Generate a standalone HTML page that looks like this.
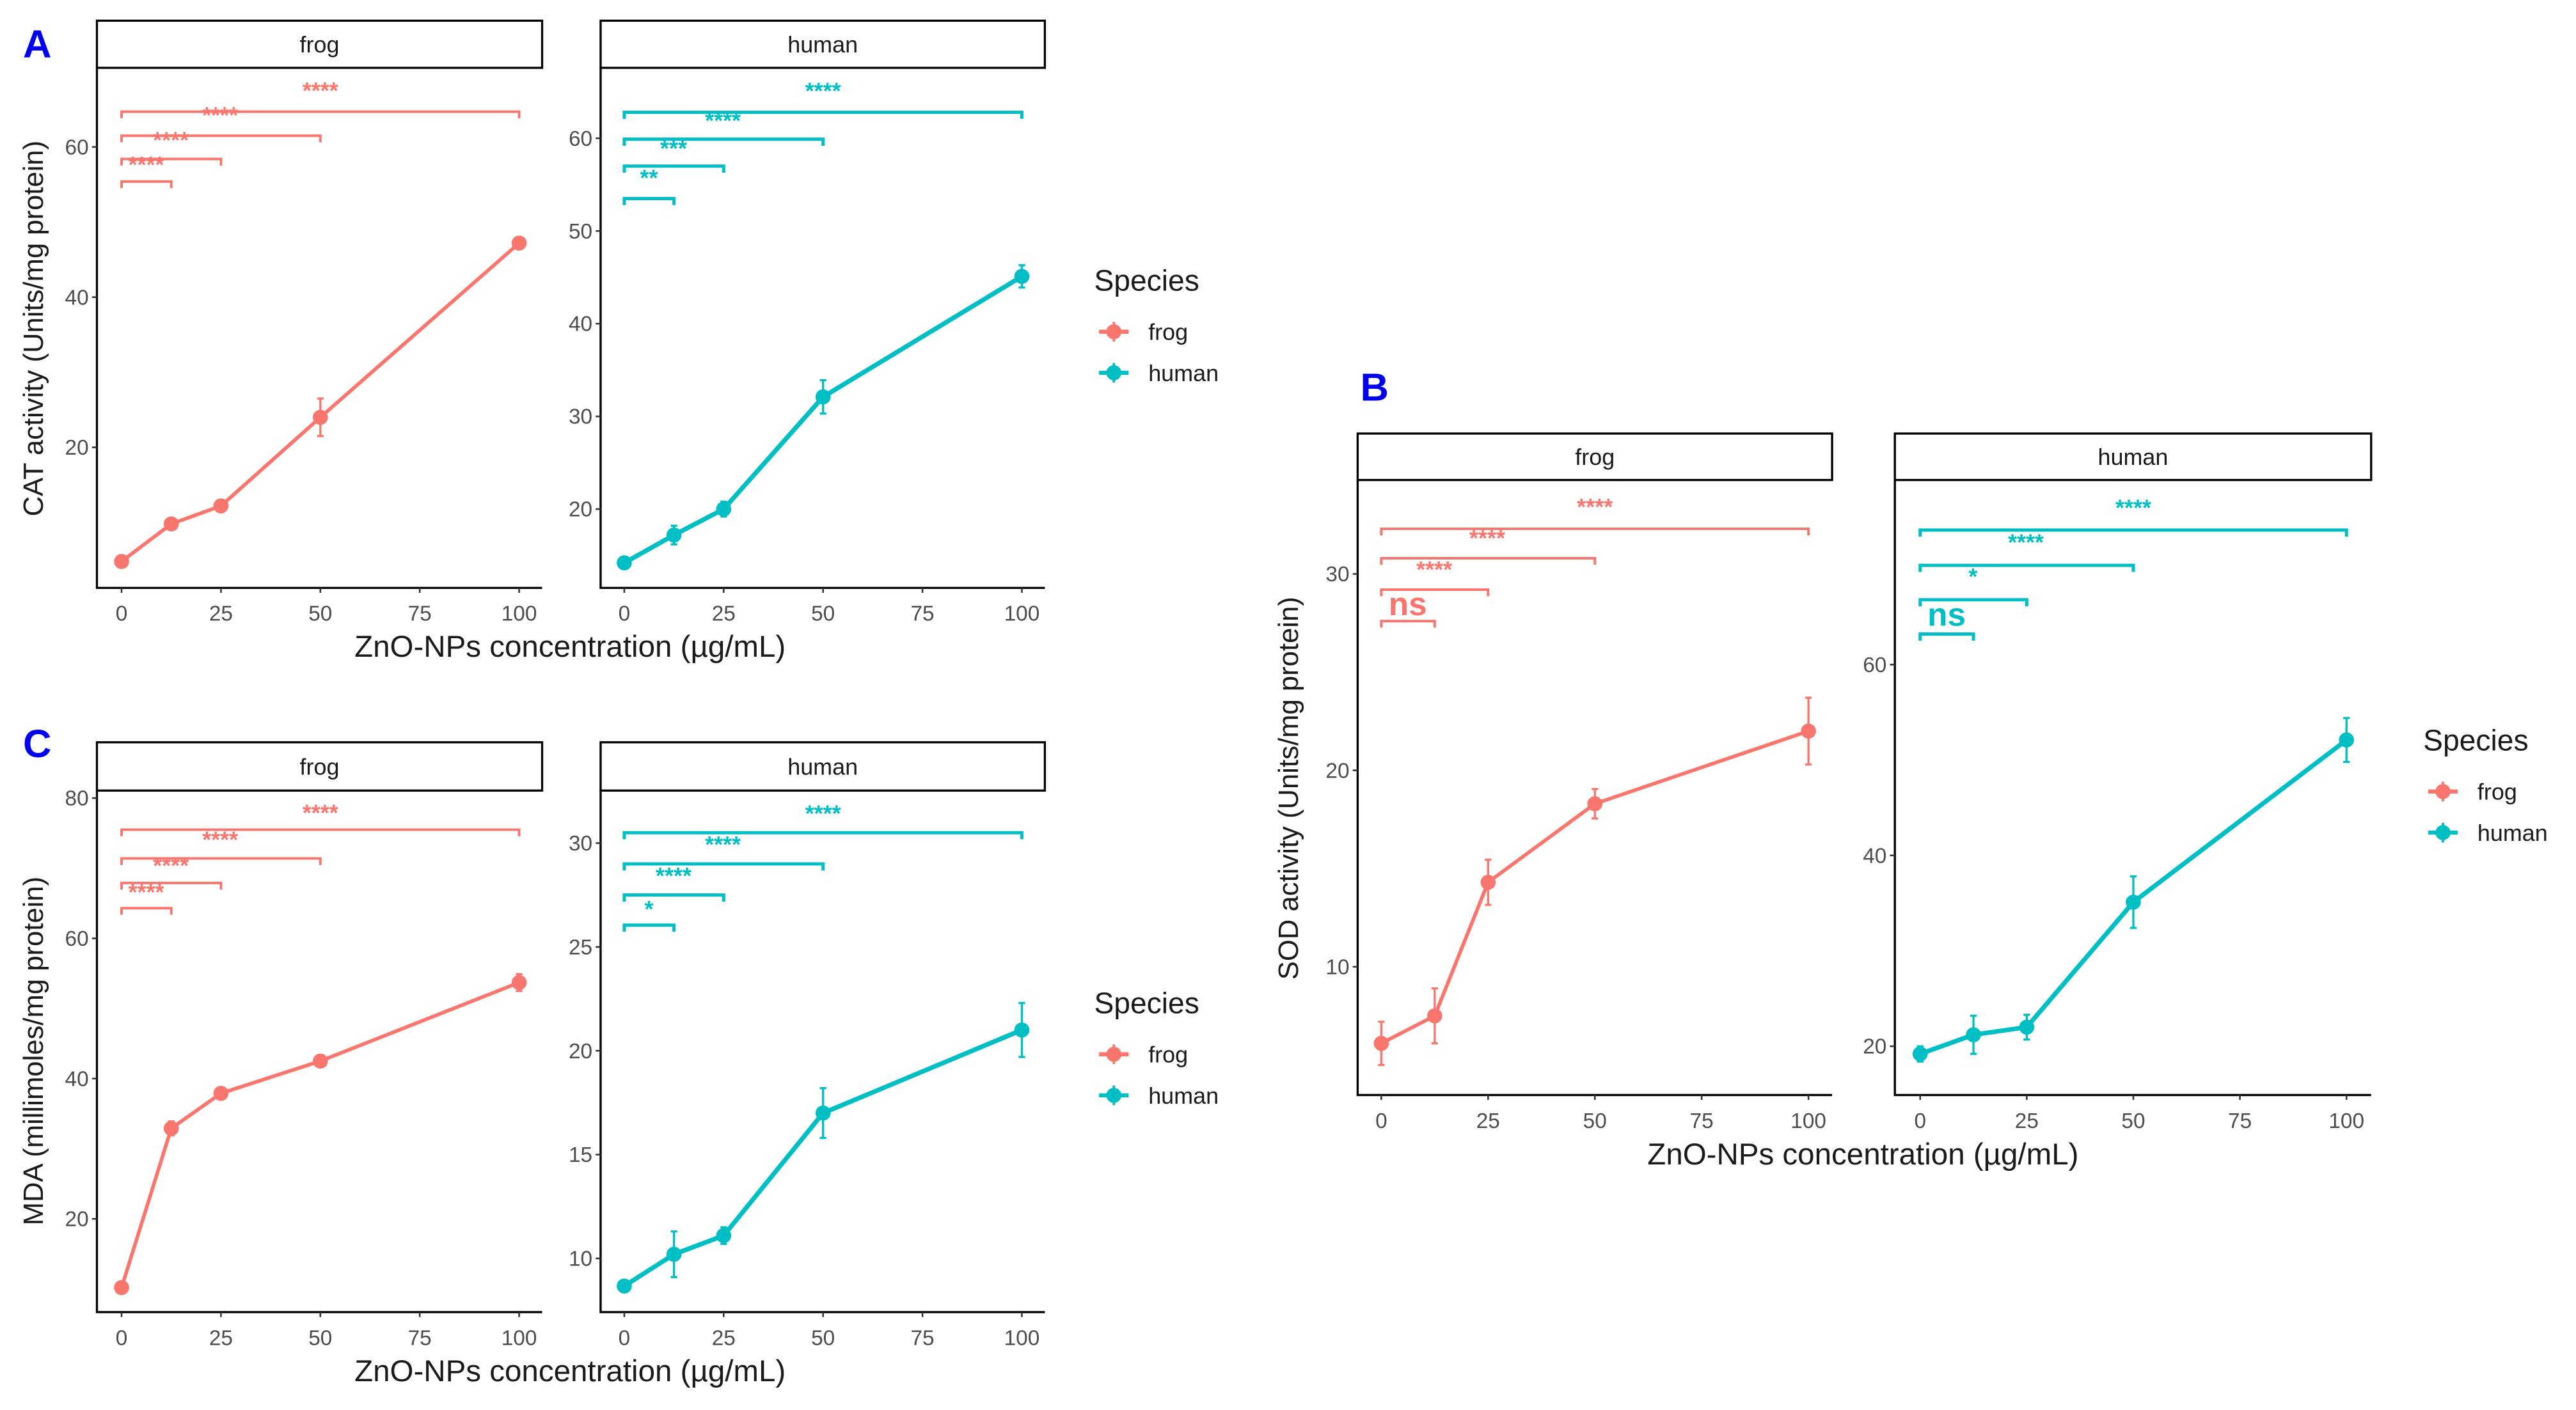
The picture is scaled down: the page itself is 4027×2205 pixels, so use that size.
<!DOCTYPE html>
<html><head><meta charset="utf-8"><style>
html,body{margin:0;padding:0;background:#fff;}
svg{display:block;font-family:"Liberation Sans",Arial,sans-serif;}
</style></head><body>
<svg id="fig" width="4027" height="2205" viewBox="0 0 1568 858.6" preserveAspectRatio="none" xmlns="http://www.w3.org/2000/svg"></svg>
<script>
const doses=[0,12.5,25,50,100];
const xTicks=[0,25,50,75,100];
// CAT (A)
const catFrog=[4.8,9.8,12.2,24.0,47.2];
const catFrogErr=[0.5,0.6,0.6,2.5,0.6];
const catHuman=[14.2,17.2,20.0,32.1,45.1];
const catHumanErr=[0.5,1.0,0.8,1.8,1.2];
const catFrogTicks=[20,40,60];
const catHumanTicks=[20,30,40,50,60];
const catFrogBrk=[55.4,58.4,61.5,64.7];
const catHumanBrk=[53.5,57.0,59.9,62.8];
const catFrogLab=["****","****","****","****"];
const catFrogLabY=[58.1,61.4,64.7,68.0];
const catHumanLab=["**","***","****","****"];
const catHumanLabY=[56.1,59.3,62.3,65.5];
// MDA (C)
const mdaFrog=[10.2,32.9,37.9,42.5,53.7];
const mdaFrogErr=[0.6,1.0,0.7,0.6,1.2];
const mdaHuman=[8.67,10.2,11.1,17.0,21.0];
const mdaHumanErr=[0.2,1.1,0.4,1.2,1.3];
const mdaFrogTicks=[20,40,60,80];
const mdaHumanTicks=[10,15,20,25,30];
const mdaFrogBrk=[64.3,67.9,71.4,75.5];
const mdaHumanBrk=[26.05,27.5,29.0,30.5];
const mdaFrogLab=["****","****","****","****"];
const mdaFrogLabY=[67.1,70.9,74.6,78.4];
const mdaHumanLab=["*","****","****","****"];
const mdaHumanLabY=[27.0,28.6,30.1,31.6];
// SOD (B)
const sodFrog=[6.1,7.5,14.3,18.3,22.0];
const sodFrogErr=[1.1,1.4,1.15,0.75,1.7];
const sodHuman=[19.2,21.2,22.0,35.1,52.1];
const sodHumanErr=[0.8,2.0,1.3,2.7,2.3];
const sodFrogTicks=[10,20,30];
const sodHumanTicks=[20,40,60];
const sodFrogBrk=[27.6,29.2,30.8,32.3];
const sodHumanBrk=[63.2,66.8,70.4,74.1];
const sodFrogLab=["ns","****","****","****"];
const sodFrogLabY=[28.4,30.4,32.0,33.6];
const sodHumanLab=["ns","*","****","****"];
const sodHumanLabY=[65.1,69.6,73.2,76.8];
const brkEnds=[12.5,25,50,100];
const labX=[6.2,12.4,24.8,50];

const NS="http://www.w3.org/2000/svg";
const svg=document.getElementById('fig');
function el(tag,attrs,parent,text){const e=document.createElementNS(NS,tag);for(const k in attrs)e.setAttribute(k,attrs[k]);if(text!==undefined)e.textContent=text;(parent||svg).appendChild(e);return e;}
const FROG="#F8766D",HUMAN="#00BFC4";

function panel(cfg){
  const g=el('g',{});
  
  
  const xs=v=>cfg.x0+(cfg.x100-cfg.x0)*v/100;
  const ys=v=>cfg.ya[1]+(v-cfg.ya[0])*(cfg.yb[1]-cfg.ya[1])/(cfg.yb[0]-cfg.ya[0]);
  const strip=el('rect',{x:cfg.left,y:cfg.st,width:cfg.right-cfg.left,height:cfg.sb-cfg.st,fill:'#fff',stroke:'#000','stroke-width':1.3},g);
  
  
  const stxt=el('text',{x:(cfg.left+cfg.right)/2,y:(cfg.st+cfg.sb)/2+5,'text-anchor':'middle','font-size':14,fill:'#1a1a1a'},g,cfg.strip);
  
  
  const ax=el('path',{d:`M${cfg.left},${cfg.sb} V${cfg.ay} H${cfg.right}`,fill:'none',stroke:'#000','stroke-width':1.3},g);
  
  
  cfg.yticks.forEach(t=>{
    const y=ys(t);
    el('line',{x1:cfg.left-3,x2:cfg.left,y1:y,y2:y,stroke:'#333','stroke-width':1},g);
    const tl=el('text',{x:cfg.left-5,y:y+4.5,'text-anchor':'end','font-size':13,fill:'#4d4d4d'},g,t);
    
    
  });
  xTicks.forEach(t=>{
    const x=xs(t);
    el('line',{x1:x,x2:x,y1:cfg.ay,y2:cfg.ay+3,stroke:'#333','stroke-width':1},g);
    const tl=el('text',{x:x,y:cfg.ay+20,'text-anchor':'middle','font-size':13,fill:'#4d4d4d'},g,t);
    
    
  });
  cfg.brk.forEach((b,i)=>{
    const y=ys(b),x1=xs(0),x2=xs(brkEnds[i]);
    const p=el('path',{d:`M${x1},${y+4} V${y} H${x2} V${y+4}`,fill:'none',stroke:cfg.color,'stroke-width':cfg.lw*0.7},g);
    
    
  });
  cfg.lab.forEach((s,i)=>{
    const ns=s==='ns';
    const t=el('text',{x:xs(labX[i]),y:ys(cfg.labY[i])+(ns?6:7),'text-anchor':'middle','font-size':ns?20:14,'font-weight':'bold',fill:cfg.color},g,s);
    
    
  });
  const d=cfg.data.map((v,i)=>(i?'L':'M')+xs(doses[i])+','+ys(v)).join(' ');
  const ln=el('path',{d:d,fill:'none',stroke:cfg.color,'stroke-width':cfg.lw},g);
  
  
  cfg.data.forEach((v,i)=>{
    const x=xs(doses[i]),e=cfg.err[i];
    const eb=el('path',{d:`M${x-2},${ys(v+e)} H${x+2} M${x},${ys(v+e)} V${ys(v-e)} M${x-2},${ys(v-e)} H${x+2}`,stroke:cfg.color,'stroke-width':1.3,fill:'none'},g);
    
    
    const c=el('circle',{cx:x,cy:ys(v),r:4.6,fill:cfg.color},g);
    
    
  });
}
function legend(x,y){
  const g=el('g',{});
  
  
  const t=el('text',{x:x-12,y:y,'font-size':18,fill:'#1a1a1a'},g,'Species');
  
  
  [['frog',FROG,25],['human',HUMAN,50]].forEach(([n,c,dy])=>{
    const ky=y+dy;
    el('line',{x1:x-9,x2:x+9,y1:ky,y2:ky,stroke:c,'stroke-width':2.5},g);
    el('line',{x1:x,x2:x,y1:ky-6,y2:ky+6,stroke:c,'stroke-width':1.5},g);
    el('circle',{cx:x,cy:ky,r:4.6,fill:c},g);
    const lt=el('text',{x:x+21,y:ky+5,'font-size':14,fill:'#1a1a1a'},g,n);
    
    
  });
}
function txt(x,y,s,attrs,name){const t=el('text',Object.assign({x:x,y:y},attrs),svg,s);return t;}

panel({name:'panel-a-frog',strip:'frog',left:59,right:330,st:12.6,sb:41.3,ay:358,x0:74,x100:316,ya:[20,272.4],yb:[60,89.5],yticks:catFrogTicks,data:catFrog,err:catFrogErr,brk:catFrogBrk,lab:catFrogLab,labY:catFrogLabY,color:FROG,lw:2.2});
panel({name:'panel-a-human',strip:'human',left:365.6,right:636,st:12.6,sb:41.3,ay:358,x0:380,x100:622,ya:[20,310],yb:[60,84.2],yticks:catHumanTicks,data:catHuman,err:catHumanErr,brk:catHumanBrk,lab:catHumanLab,labY:catHumanLabY,color:HUMAN,lw:2.8});
panel({name:'panel-c-frog',strip:'frog',left:59,right:330,st:452,sb:481.4,ay:799,x0:74,x100:316,ya:[20,742.2],yb:[80,486],yticks:mdaFrogTicks,data:mdaFrog,err:mdaFrogErr,brk:mdaFrogBrk,lab:mdaFrogLab,labY:mdaFrogLabY,color:FROG,lw:2.2});
panel({name:'panel-c-human',strip:'human',left:365.6,right:636,st:452,sb:481.4,ay:799,x0:380,x100:622,ya:[10,766.3],yb:[30,513.4],yticks:mdaHumanTicks,data:mdaHuman,err:mdaHumanErr,brk:mdaHumanBrk,lab:mdaHumanLab,labY:mdaHumanLabY,color:HUMAN,lw:2.8});
panel({name:'panel-b-frog',strip:'frog',left:826.4,right:1115.2,st:264,sb:292.3,ay:666.8,x0:840.8,x100:1100.8,ya:[10,588.7],yb:[30,349.5],yticks:sodFrogTicks,data:sodFrog,err:sodFrogErr,brk:sodFrogBrk,lab:sodFrogLab,labY:sodFrogLabY,color:FROG,lw:2.2});
panel({name:'panel-b-human',strip:'human',left:1153.4,right:1443.3,st:264,sb:292.3,ay:666.8,x0:1168.8,x100:1428.3,ya:[20,637.1],yb:[60,404.7],yticks:sodHumanTicks,data:sodHuman,err:sodHumanErr,brk:sodHumanBrk,lab:sodHumanLab,labY:sodHumanLabY,color:HUMAN,lw:2.8});

legend(678,177);
legend(678,617);
legend(1487,457);

txt(347,400,'ZnO-NPs concentration (µg/mL)',{'text-anchor':'middle','font-size':18.5,fill:'#1a1a1a'},'x-axis-title-a');
txt(347,841,'ZnO-NPs concentration (µg/mL)',{'text-anchor':'middle','font-size':18.5,fill:'#1a1a1a'},'x-axis-title-c');
txt(1134,709,'ZnO-NPs concentration (µg/mL)',{'text-anchor':'middle','font-size':18.5,fill:'#1a1a1a'},'x-axis-title-b');
txt(0,0,'CAT activity (Units/mg protein)',{'text-anchor':'middle','font-size':17,fill:'#1a1a1a',transform:'translate(26,200) rotate(-90)'},'y-axis-title-a');
txt(0,0,'MDA (millimoles/mg protein)',{'text-anchor':'middle','font-size':17,fill:'#1a1a1a',transform:'translate(26,640) rotate(-90)'},'y-axis-title-c');
txt(0,0,'SOD activity (Units/mg protein)',{'text-anchor':'middle','font-size':17,fill:'#1a1a1a',transform:'translate(790,480) rotate(-90)'},'y-axis-title-b');
txt(14,35,'A',{'font-size':24,'font-weight':'bold',fill:'#0000ee'},'panel-label-a');
txt(14,461,'C',{'font-size':24,'font-weight':'bold',fill:'#0000ee'},'panel-label-c');
txt(828,244,'B',{'font-size':24,'font-weight':'bold',fill:'#0000ee'},'panel-label-b');
</script>
</body></html>
